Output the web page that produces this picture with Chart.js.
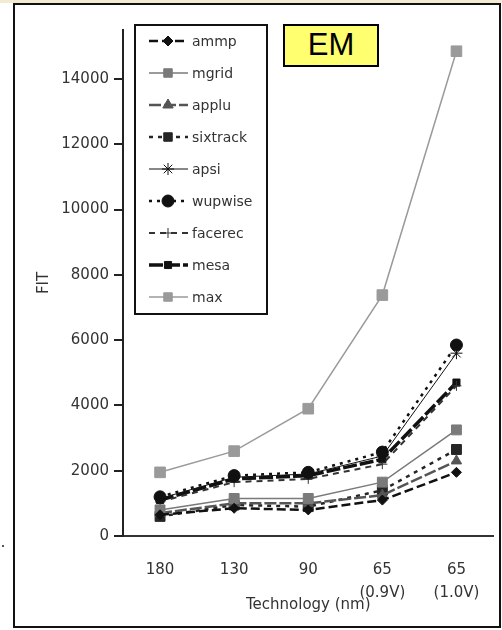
<!DOCTYPE html>
<html>
<head>
<meta charset="utf-8">
<script src="https://cdn.jsdelivr.net/npm/chart.js@4/dist/chart.umd.min.js"></script>
<style>
  html, body { margin: 0; padding: 0; background: #fff; }
  #wrap { position: relative; width: 502px; height: 630px; overflow: hidden; background: #fff; }
  #topband { position: absolute; left: 0; top: 0; width: 502px; height: 3px; background: #f3ead2; }
  #frame { position: absolute; left: 13px; top: 3px; width: 484px; height: 621px; border: 2px solid #111; }
  #dot { position: absolute; left: 2px; top: 545px; width: 2px; height: 2px; background: #555; }
  #chart { position: absolute; left: 0; top: 0; }
  #em { position: absolute; left: 283px; top: 24px; width: 92px; height: 39px; background: #ffff70;
        border: 2px solid #000; font: 31px "Liberation Sans", Arial, sans-serif; text-align: center; line-height: 38px; color: #000; }
</style>
</head>
<body>
<div id="wrap">
  <div id="topband"></div>
  <div id="frame"></div>
  <div id="dot"></div>
  <canvas id="chart" width="502" height="630"></canvas>
  <div id="em">EM</div>
</div>
<script>
// Technology nodes on the x axis
const categories = ['180', '130', '90', ['65', '(0.9V)'], ['65', '(1.0V)']];

// FIT per benchmark at each node
const ammp     = [650, 850, 800, 1100, 1950];
const mgrid    = [800, 1150, 1150, 1650, 3250];
const applu    = [700, 1000, 1000, 1250, 2300];
const sixtrack = [600, 950, 900, 1400, 2650];
const apsi     = [1150, 1800, 1900, 2450, 5600];
const wupwise  = [1200, 1850, 1950, 2570, 5850];
const facerec  = [1050, 1650, 1750, 2200, 4600];
const mesa     = [1100, 1750, 1850, 2350, 4700];
const maxFit   = [1950, 2600, 3900, 7380, 14850];

// y axis tick values
const yTicks = [0, 2000, 4000, 6000, 8000, 10000, 12000, 14000];

const FONT = '"DejaVu Sans", "Liberation Sans", Arial, sans-serif';

function series(label, data, color, width, dash, style, radius) {
  return {
    label, data,
    borderColor: color, backgroundColor: color,
    borderWidth: width, borderDash: dash,
    pointStyle: style, pointRadius: radius, pointHoverRadius: radius,
    pointBackgroundColor: color, pointBorderColor: color, pointBorderWidth: 1,
    tension: 0, fill: false
  };
}

const datasets = [
  series('ammp',     ammp,     '#111', 2.5, [9, 4],  'rectRot',  5),
  series('mgrid',    mgrid,    '#7a7a7a', 1.5, [],   'rect',     7),
  series('applu',    applu,    '#555', 2.5, [12, 3], 'triangle', 6),
  series('sixtrack', sixtrack, '#252525', 2.5, [4, 5], 'rect',   7),
  series('apsi',     apsi,     '#111', 1, [],        'star',     6),
  series('wupwise',  wupwise,  '#111', 2.5, [3, 5],  'circle',   6),
  series('facerec',  facerec,  '#333', 2, [6, 5],    'cross',    5),
  series('mesa',     mesa,     '#111', 3.5, [14, 3], 'rect',     5),
  series('max',      maxFit,   '#9a9a9a', 1.5, [],   'rect',     7.5)
];

// Boxed legend with line samples drawn from each dataset's own style
const boxLegend = {
  id: 'boxLegend',
  afterDraw(chart) {
    const ctx = chart.ctx;
    const x0 = 135, y0 = 25, w = 132, h = 289;
    ctx.save();
    ctx.fillStyle = '#fff';
    ctx.fillRect(x0, y0, w, h);
    ctx.lineWidth = 2;
    ctx.strokeStyle = '#111';
    ctx.strokeRect(x0, y0, w, h);
    chart.data.datasets.forEach((ds, i) => {
      const y = 41 + i * 32;
      ctx.save();
      ctx.strokeStyle = ds.borderColor;
      ctx.lineWidth = ds.borderWidth;
      ctx.setLineDash(ds.borderDash || []);
      ctx.beginPath();
      ctx.moveTo(149, y);
      ctx.lineTo(188, y);
      ctx.stroke();
      ctx.restore();
      ctx.save();
      ctx.fillStyle = ds.pointBackgroundColor;
      ctx.strokeStyle = ds.pointBorderColor;
      ctx.lineWidth = 1;
      Chart.helpers.drawPoint(ctx, {
        pointStyle: ds.pointStyle,
        radius: Math.min(ds.pointRadius, 6),
        rotation: 0,
        borderWidth: 1
      }, 168, y);
      ctx.restore();
      ctx.fillStyle = '#333';
      ctx.font = '14px ' + FONT;
      ctx.textBaseline = 'middle';
      ctx.textAlign = 'left';
      ctx.fillText(ds.label, 192, y + 1);
    });
    ctx.restore();
  }
};

new Chart(document.getElementById('chart'), {
  type: 'line',
  data: { labels: categories, datasets },
  options: {
    responsive: false,
    animation: false,
    events: [],
    layout: { padding: { top: 30, right: 4, left: 0, bottom: 0 } },
    plugins: { legend: { display: false }, tooltip: { enabled: false } },
    scales: {
      x: {
        type: 'category',
        offset: true,
        grid: { display: false },
        border: { display: true, color: '#333', width: 2 },
        ticks: {
          color: '#333', padding: 15, maxRotation: 0, autoSkip: false,
          font: { family: FONT, size: 15, lineHeight: 1.5 }
        },
        title: {
          display: true, text: 'Technology (nm)', color: '#333',
          font: { family: FONT, size: 15 }, padding: { top: 0, bottom: 16 }
        },
        afterFit(scale) { scale.height = 94; }
      },
      y: {
        min: 0, max: 15500,
        ticks: {
          stepSize: 2000, color: '#333', padding: 5,
          font: { family: FONT, size: 15 },
          callback: v => String(v)
        },
        afterBuildTicks(scale) { scale.ticks = yTicks.map(v => ({ value: v })); },
        grid: { display: true, drawOnChartArea: false, drawTicks: true, tickLength: 9, color: '#222', lineWidth: 2 },
        border: { display: true, color: '#222', width: 2 },
        title: {
          display: true, text: 'FIT', color: '#333',
          font: { family: FONT, size: 15 }, padding: { top: 35, bottom: 35 }
        },
        afterFit(scale) { scale.width = 123; }
      }
    }
  },
  plugins: [boxLegend]
});
</script>
</body>
</html>
